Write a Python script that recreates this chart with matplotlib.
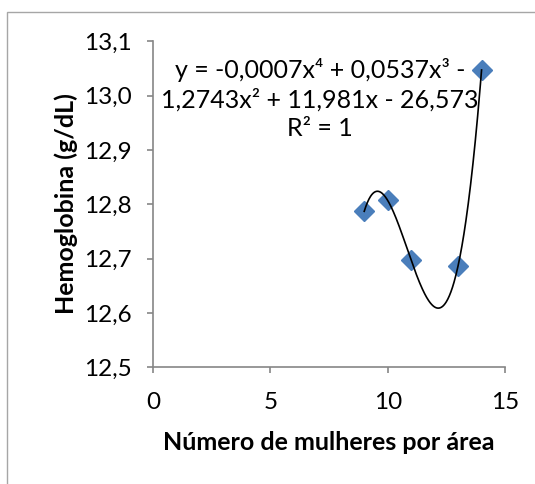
import numpy as np
import matplotlib.pyplot as plt
from matplotlib.patches import Rectangle

# women per area vs. mean hemoglobin
mulheres = [9, 10, 11, 13, 14]
hemoglobina = [12.787, 12.807, 12.697, 12.687, 13.047]

x_ticks = [0, 5, 10, 15]
y_ticks = [12.5, 12.6, 12.7, 12.8, 12.9, 13.0, 13.1]
y_tick_labels = ['12,5', '12,6', '12,7', '12,8', '12,9', '13,0', '13,1']

equacao = ('y = -0,0007x\u2074 + 0,0537x\u00b3 -\n'
           '1,2743x\u00b2 + 11,981x - 26,573\n'
           'R\u00b2 = 1')

plt.rcParams['font.family'] = ['Lato', 'DejaVu Sans']
axis_grey = '#868686'

fig = plt.figure(figsize=(5.35, 4.84), dpi=100)
fig.patches.append(Rectangle((7 / 535, -0.1), 1.2, 1 - 12 / 484 + 0.1,
                             transform=fig.transFigure, fill=False,
                             edgecolor='#a6a6a6', linewidth=1.0))
ax = fig.add_axes([0.286, 0.241, 0.658, 0.674])

# 4th order polynomial trendline through the points
coef = np.polyfit(mulheres, hemoglobina, 4)
xs = np.linspace(min(mulheres), max(mulheres), 300)
ax.plot(xs, np.polyval(coef, xs), color='black', linewidth=1.2, zorder=3)

ax.plot(mulheres, hemoglobina, linestyle='none', marker='D', markersize=10,
        color='#4a7ebb', zorder=2)

ax.set_xlim(0, 15)
ax.set_ylim(12.5, 13.1)
ax.set_xticks(x_ticks)
ax.set_yticks(y_ticks)
ax.set_yticklabels(y_tick_labels)

for side in ('top', 'right'):
    ax.spines[side].set_visible(False)
for side in ('left', 'bottom'):
    ax.spines[side].set_color(axis_grey)
    ax.spines[side].set_linewidth(1.2)
ax.tick_params(direction='out', length=4.5, width=1.2, color=axis_grey,
               labelsize=17.5)
ax.tick_params(axis='x', pad=13)
ax.tick_params(axis='y', pad=11)

ax.set_xlabel('Número de mulheres por área', fontsize=18, fontweight='bold',
              va='center')
ax.set_ylabel('Hemoglobina (g/dL)', fontsize=18, fontweight='bold',
              va='center')
ax.xaxis.set_label_coords(0.5, -0.229)
ax.yaxis.set_label_coords(-0.247, 0.501)

ax.text(0.474, 0.823, equacao, transform=ax.transAxes, ha='center',
        va='center', fontsize=18, linespacing=1.3)

fig.savefig('out.png', dpi=100)
